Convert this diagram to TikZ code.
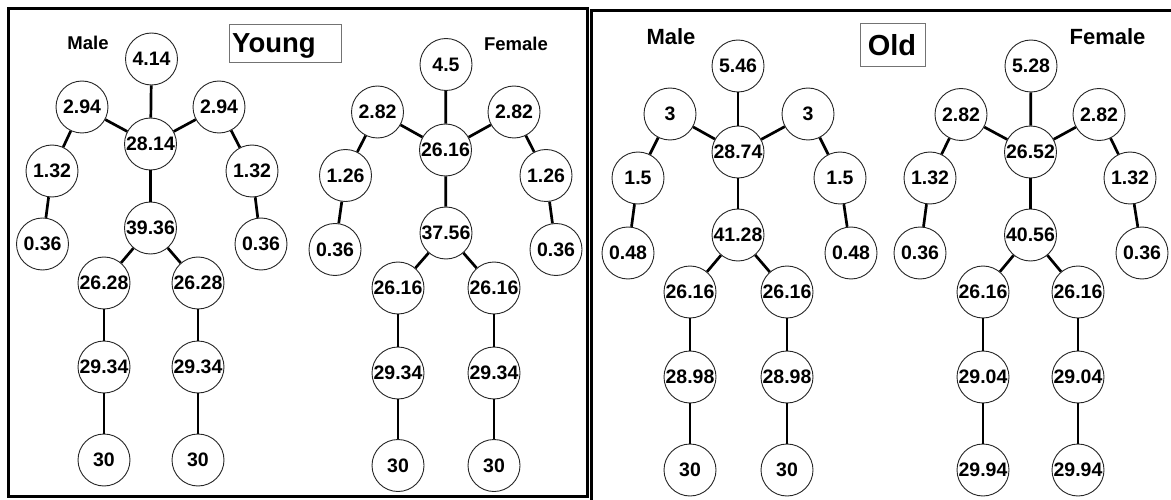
\documentclass[tikz,border=0pt]{standalone}
\usepackage{fontspec}
\setmainfont{Liberation Sans}
\begin{document}
\begin{tikzpicture}[x=1pt,y=-1pt,
  joint/.style={circle,draw=black!85,line width=0.9pt,fill=white,minimum size=52pt,inner sep=0pt,
    font=\fontsize{19.5}{21}\selectfont\bfseries},
  bone/.style={line width=2.7pt,black},
  sexlabel/.style={font=\fontsize{18.5}{20}\selectfont\bfseries,inner sep=0pt},
  sexlabelold/.style={font=\fontsize{22}{24}\selectfont\bfseries,inner sep=0pt},
  agebox/.style={draw=black!55,line width=1pt}]
\useasboundingbox (0,0) rectangle (1171,500);
\fill[white] (0,0) rectangle (1171,500);
% frames
\draw[line width=3pt] (8.5,8.5) rectangle (587,496);
\draw[line width=2.5pt] (591.5,500) -- (591.5,10.5) -- (1171,10.5);
% titles
\draw[agebox] (229,25) rectangle (341,63);
\node[anchor=base west,inner sep=0pt,font=\fontsize{27.5}{30}\selectfont\bfseries] (young) at (232,53) {Young};
\draw[agebox] (860,24) rectangle (925,67);
\node[anchor=base,inner sep=0pt,font=\fontsize{29}{31}\selectfont\bfseries] (old) at (892,55.5) {Old};
\node[sexlabel] (ymlab) at (88,43) {Male};
\node[sexlabel] (yflab) at (516,43.5) {Female};
\node[sexlabelold] (omlab) at (671,37) {Male};
\node[sexlabelold] (oflab) at (1107.5,36.5) {Female};
% Young male
\node[joint] (ym-head) at (151.5,59) {4.14};
\node[joint] (ym-ls) at (82,107) {2.94};
\node[joint] (ym-rs) at (219,107) {2.94};
\node[joint] (ym-torso) at (150.5,144) {28.14};
\node[joint] (ym-la) at (52,171) {1.32};
\node[joint] (ym-ra) at (252,171) {1.32};
\node[joint] (ym-lh) at (42.5,244) {0.36};
\node[joint] (ym-rh) at (261,244) {0.36};
\node[joint] (ym-pelvis) at (150.5,228) {39.36};
\node[joint] (ym-lt) at (104,283) {26.28};
\node[joint] (ym-rt) at (198,283) {26.28};
\node[joint] (ym-lk) at (104,367) {29.34};
\node[joint] (ym-rk) at (198,367) {29.34};
\node[joint] (ym-lf) at (104,460) {30};
\node[joint] (ym-rf) at (198,460) {30};
% Young female
\node[joint] (yf-head) at (446,64.5) {4.5};
\node[joint] (yf-ls) at (377.5,112) {2.82};
\node[joint] (yf-rs) at (514,112) {2.82};
\node[joint] (yf-torso) at (445.5,150) {26.16};
\node[joint] (yf-la) at (345.5,175.5) {1.26};
\node[joint] (yf-ra) at (546,175.5) {1.26};
\node[joint] (yf-lh) at (335,249.5) {0.36};
\node[joint] (yf-rh) at (556,249.5) {0.36};
\node[joint] (yf-pelvis) at (446,233) {37.56};
\node[joint] (yf-lt) at (398,288) {26.16};
\node[joint] (yf-rt) at (494,288) {26.16};
\node[joint] (yf-lk) at (398,373) {29.34};
\node[joint] (yf-rk) at (494,373) {29.34};
\node[joint] (yf-lf) at (398,465.5) {30};
\node[joint] (yf-rf) at (494,465.5) {30};
% Old male
\node[joint] (om-head) at (738,66) {5.46};
\node[joint] (om-ls) at (670,114) {3};
\node[joint] (om-rs) at (808,114) {3};
\node[joint] (om-torso) at (738,152) {28.74};
\node[joint] (om-la) at (638,178) {1.5};
\node[joint] (om-ra) at (840,178) {1.5};
\node[joint] (om-lh) at (628,253) {0.48};
\node[joint] (om-rh) at (851,253) {0.48};
\node[joint] (om-pelvis) at (738,235) {41.28};
\node[joint] (om-lt) at (690,292) {26.16};
\node[joint] (om-rt) at (787,292) {26.16};
\node[joint] (om-lk) at (690,377) {28.98};
\node[joint] (om-rk) at (787,377) {28.98};
\node[joint] (om-lf) at (690,470) {30};
\node[joint] (om-rf) at (787,470) {30};
% Old female
\node[joint] (of-head) at (1031,66) {5.28};
\node[joint] (of-ls) at (961,114.5) {2.82};
\node[joint] (of-rs) at (1099,114.5) {2.82};
\node[joint] (of-torso) at (1030.5,152) {26.52};
\node[joint] (of-la) at (930,178) {1.32};
\node[joint] (of-ra) at (1130,178) {1.32};
\node[joint] (of-lh) at (920,253) {0.36};
\node[joint] (of-rh) at (1142,253) {0.36};
\node[joint] (of-pelvis) at (1030.5,235) {40.56};
\node[joint] (of-lt) at (983,292) {26.16};
\node[joint] (of-rt) at (1078,292) {26.16};
\node[joint] (of-lk) at (983,377) {29.04};
\node[joint] (of-rk) at (1078,377) {29.04};
\node[joint] (of-lf) at (983,470) {29.94};
\node[joint] (of-rf) at (1078,470) {29.94};
% bones
\foreach \p in {ym,yf,om,of}{
  \draw[bone] (\p-head) -- (\p-torso);
  \draw[bone] (\p-ls) -- (\p-torso);
  \draw[bone] (\p-rs) -- (\p-torso);
  \draw[bone] (\p-ls) -- (\p-la);
  \draw[bone] (\p-rs) -- (\p-ra);
  \draw[bone] (\p-la) -- (\p-lh);
  \draw[bone] (\p-ra) -- (\p-rh);
  \draw[bone] (\p-torso) -- (\p-pelvis);
  \draw[bone] (\p-pelvis) -- (\p-lt);
  \draw[bone] (\p-pelvis) -- (\p-rt);
  \draw[bone] (\p-lt) -- (\p-lk);
  \draw[bone] (\p-rt) -- (\p-rk);
  \draw[bone] (\p-lk) -- (\p-lf);
  \draw[bone] (\p-rk) -- (\p-rf);
}
\end{tikzpicture}
\end{document}
